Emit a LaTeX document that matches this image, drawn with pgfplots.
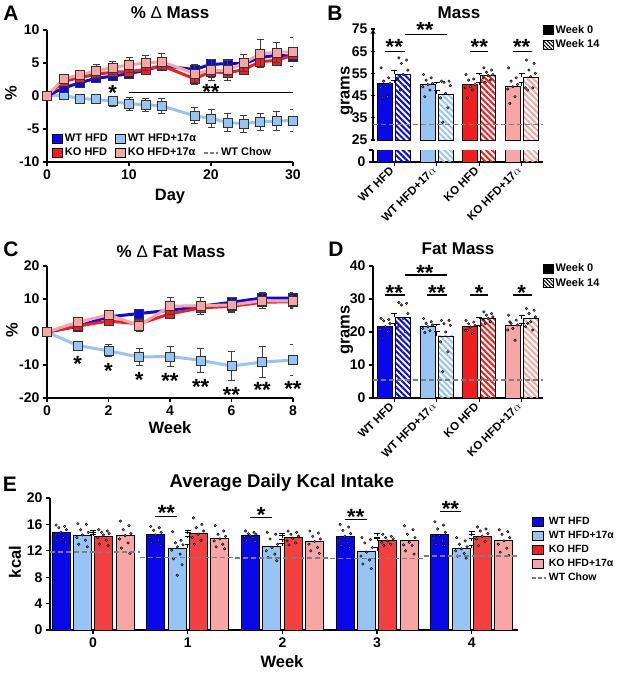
\documentclass[border=0pt]{standalone}
\usepackage{fontspec}
\setmainfont{Liberation Sans}
\usepackage{pgfplots}
\pgfplotsset{compat=1.18}
\usetikzlibrary{patterns.meta}

\definecolor{wtb}{RGB}{8,8,235}
\definecolor{lbl}{RGB}{150,196,245}
\definecolor{kor}{RGB}{240,30,30}
\definecolor{pnk}{RGB}{247,165,165}
\definecolor{dotg}{RGB}{120,120,120}
\definecolor{chow}{RGB}{125,125,125}

\newcommand{\fs}[1]{\fontsize{#1}{#1}\selectfont}

\tikzset{sig/.style={font=\bfseries\fs{22}, inner sep=0pt, anchor=base, yshift=-12.5pt}}

\pgfplotsset{
 prism/.style={scale only axis, axis lines=left, axis line style={-, line width=1.3pt, black},
   tick align=outside, major tick length=4pt, tick style={line width=1.3pt, black},
   tick label style={font=\bfseries\fs{14}}, /pgf/number format/assume math mode=true,
   clip mode=individual},
 serie/.style 2 args={color=#1, line width=3pt, mark=square*, mark size=4.5pt,
   mark options={fill=#2, draw=black!80, line width=0.7pt, solid},
   /pgfplots/error bars/y dir=both, /pgfplots/error bars/y explicit,
   /pgfplots/error bars/error bar style={line width=0.9pt, black!75},
   /pgfplots/error bars/error mark options={rotate=90, mark size=3.5pt, line width=0.9pt, black!75}},
 barst/.style={ybar, bar width=#1, draw=black, line width=0.9pt,
   /pgfplots/error bars/y dir=plus, /pgfplots/error bars/y explicit,
   /pgfplots/error bars/error bar style={line width=0.9pt, black},
   /pgfplots/error bars/error mark options={rotate=90, mark size=3pt, line width=0.9pt, black}},
 barsl/.style={ybar, bar width=#1, draw=black, line width=0.9pt},
 hatch/.style={pattern={Lines[angle=-45,distance=4.2pt,line width=2pt]}, pattern color=#1},
 dots/.style={only marks, mark=*, mark size=1.3pt, mark options={fill=dotg, draw=none}},
 sq/.style={legend image code/.code={\draw[fill=#1, draw=black, line width=0.6pt] (0pt,-4.5pt) rectangle (10.5pt,4.5pt);}},
 hsq/.style={legend image code/.code={\draw[pattern={Lines[angle=-45,distance=2.6pt,line width=1pt]}, pattern color=black, draw=black, line width=0.6pt] (0pt,-4.5pt) rectangle (10pt,4.5pt);}},
 chowleg/.style={legend image code/.code={\draw[chow, dash pattern=on 4pt off 2pt, line width=2pt] (0pt,0pt) -- (14pt,0pt);}},
 chowline/.style={chow, dash pattern=on 5pt off 3pt, line width=1.3pt}
}

\begin{document}
\begin{tikzpicture}
\path[use as bounding box] (0pt,0pt) rectangle (617pt,-674pt);

% ---------------- Panel A ----------------
\begin{axis}[prism, at={(47pt,-162pt)}, anchor=south west, width=246pt, height=132pt,
  xmin=0, xmax=30, ymin=-10, ymax=10, xtick={0,10,20,30}, ytick={-10,-5,0,5,10},
  legend style={at={(axis description cs:0.015,0.01)}, anchor=south west, draw=none, fill=none,
    font=\bfseries\fs{11}, inner sep=1pt, row sep=1pt, /tikz/every even column/.append style={column sep=5pt}},
  legend columns=3, legend cell align=left]
\addplot[forget plot, serie={lbl}{lbl}] table[x=x,y=y,y error=e] {
x y e
0 0 0
2 0.1 0.4
4 -0.4 0.5
6 -0.5 0.6
8 -0.8 0.8
10 -1.2 1.0
12 -1.3 1.0
14 -1.5 1.2
18 -3.0 1.2
20 -3.4 1.3
22 -4.0 1.3
24 -4.2 1.3
26 -3.9 1.3
28 -3.8 1.4
30 -3.7 1.6
};
\addplot[forget plot, serie={wtb}{wtb}] table[x=x,y=y,y error=e] {
x y e
0 0 0
2 1.2 0.5
4 2.0 0.6
6 2.7 0.6
8 3.0 0.6
10 3.4 0.6
12 3.9 0.6
14 4.6 0.5
18 4.0 0.7
20 4.8 0.6
22 4.9 0.5
24 4.9 0.6
26 5.8 0.7
28 6.2 0.7
30 6.0 0.8
};
\addplot[forget plot, serie={kor}{kor}] table[x=x,y=y,y error=e] {
x y e
0 0 0
2 2.2 0.5
4 2.8 0.6
6 3.3 0.6
8 3.6 0.7
10 3.7 0.7
12 4.0 0.7
14 4.6 0.6
18 2.6 0.9
20 3.7 0.9
22 3.5 0.7
24 4.0 0.6
26 5.2 0.8
28 5.4 0.8
30 6.2 0.9
};
\addplot[forget plot, serie={pnk}{pnk}] table[x=x,y=y,y error=e] {
x y e
0 0 0
2 2.6 0.7
4 3.2 0.7
6 3.8 1.0
8 4.3 1.0
10 4.7 1.2
12 5.0 1.2
14 5.2 1.2
18 3.4 1.4
20 3.9 1.6
22 3.9 1.5
24 5.0 1.3
26 6.4 2.1
28 6.6 1.5
30 6.7 2.2
};
\addlegendimage{sq=wtb}\addlegendentry{WT HFD}
\addlegendimage{sq=lbl}\addlegendentry{WT HFD+17α}
\addlegendimage{empty legend}\addlegendentry{}
\addlegendimage{sq=kor}\addlegendentry{KO HFD}
\addlegendimage{sq=pnk}\addlegendentry{KO HFD+17α}
\addlegendimage{chowleg}\addlegendentry{WT Chow}
\draw[line width=1.2pt] (axis cs:10,0.5) -- (axis cs:30,0.5);
\node[sig] at (axis cs:8,1.2) {*};
\node[sig] at (axis cs:20,1.3) {**};
\end{axis}

% ---------------- Panel B (upper) ----------------
\begin{axis}[prism, at={(373pt,-140pt)}, anchor=south west, width=170pt, height=111pt,
  xmin=0.5, xmax=4.5, ymin=25, ymax=75, axis x line=none, axis y line=left,
  ytick={25,35,45,55,65,75}, xtick=\empty,
  legend style={at={(axis description cs:0.99,1.06)}, anchor=north west, draw=none, fill=none,
    font=\bfseries\fs{11}, inner sep=1pt, row sep=1pt}, legend cell align=left]
\addplot[forget plot, barst=15pt, bar shift=-9pt, fill=wtb] coordinates {(1,50.5) +- (0,1.3)};
\addplot[forget plot, barst=15pt, bar shift=9pt, hatch=wtb] coordinates {(1,54.7) +- (0,1.8)};
\addplot[forget plot, barst=15pt, bar shift=-9pt, fill=lbl] coordinates {(2,50.0) +- (0,1.0)};
\addplot[forget plot, barst=15pt, bar shift=9pt, hatch=lbl] coordinates {(2,45.7) +- (0,1.8)};
\addplot[forget plot, barst=15pt, bar shift=-9pt, fill=kor] coordinates {(3,49.8) +- (0,1.2)};
\addplot[forget plot, barst=15pt, bar shift=9pt, hatch=kor] coordinates {(3,54.1) +- (0,0.9)};
\addplot[forget plot, barst=15pt, bar shift=-9pt, fill=pnk] coordinates {(4,49.3) +- (0,1.5)};
\addplot[forget plot, barst=15pt, bar shift=9pt, hatch=pnk] coordinates {(4,53.2) +- (0,2.0)};
\addplot[forget plot, dots] coordinates {
(0.69,57.5) (0.87,53) (0.75,51.5) (0.90,50.5) (0.79,49) (0.67,48.5) (0.84,44.5) (0.72,44)
(1.11,62) (1.29,61) (1.17,59.5) (1.32,56.5) (1.21,54.5) (1.09,53) (1.26,49) (1.14,47.5)
(1.69,54.5) (1.87,53) (1.75,52) (1.90,50.5) (1.79,50) (1.67,49) (1.84,47.5) (1.72,44.5)
(2.11,51.5) (2.29,51.5) (2.17,51) (2.32,49.5) (2.21,46) (2.09,44) (2.26,39.5) (2.14,33)
(2.69,54.5) (2.87,52.5) (2.75,52) (2.90,50) (2.79,49) (2.67,48.5) (2.84,47.5) (2.72,44)
(3.11,57.5) (3.29,56.5) (3.17,55.5) (3.32,54.5) (3.21,54) (3.09,53) (3.26,52) (3.14,51)
(3.69,57.5) (3.87,53) (3.75,51.5) (3.90,50) (3.79,49) (3.67,48) (3.84,44.5) (3.72,41.5)
(4.11,61) (4.29,59.5) (4.17,56.5) (4.32,55) (4.21,53.5) (4.09,48.5) (4.26,48.5) (4.14,47.5)
};
\addplot[forget plot, chowline] coordinates {(0.5,32) (4.5,32)};
\addlegendimage{sq=black}\addlegendentry{Week 0}
\addlegendimage{hsq}\addlegendentry{Week 14}
\draw[line width=1.2pt] (axis cs:0.78,65) -- (axis cs:1.25,65);
\node[sig] at (axis cs:1.0,69.3) {**};
\draw[line width=1.2pt] (axis cs:1.25,72.7) -- (axis cs:2.24,72.7);
\node[sig] at (axis cs:1.72,76.8) {**};
\draw[line width=1.2pt] (axis cs:2.78,65) -- (axis cs:3.21,65);
\node[sig] at (axis cs:3.0,69.3) {**};
\draw[line width=1.2pt] (axis cs:3.79,65) -- (axis cs:4.24,65);
\node[sig] at (axis cs:4.0,69.3) {**};
\end{axis}

% ---------------- Panel B (lower) ----------------
\begin{axis}[prism, at={(373pt,-162pt)}, anchor=south west, width=170pt, height=12pt,
  xmin=0.5, xmax=4.5, ymin=0, ymax=5, ytick={0,5}, yticklabels={0,{}},
  xtick={1,2,3,4}, xticklabels={WT HFD, WT HFD+17$\alpha$, KO HFD, KO HFD+17$\alpha$},
  xticklabel style={rotate=45, anchor=east, font=\bfseries\fs{11.5}}]
\addplot[forget plot, barsl=15pt, bar shift=-9pt, fill=wtb] coordinates {(1,50.5)};
\addplot[forget plot, barsl=15pt, bar shift=9pt, hatch=wtb] coordinates {(1,54.7)};
\addplot[forget plot, barsl=15pt, bar shift=-9pt, fill=lbl] coordinates {(2,50.0)};
\addplot[forget plot, barsl=15pt, bar shift=9pt, hatch=lbl] coordinates {(2,45.7)};
\addplot[forget plot, barsl=15pt, bar shift=-9pt, fill=kor] coordinates {(3,49.8)};
\addplot[forget plot, barsl=15pt, bar shift=9pt, hatch=kor] coordinates {(3,54.1)};
\addplot[forget plot, barsl=15pt, bar shift=-9pt, fill=pnk] coordinates {(4,49.3)};
\addplot[forget plot, barsl=15pt, bar shift=9pt, hatch=pnk] coordinates {(4,53.2)};
\end{axis}

% ---------------- Panel C ----------------
\begin{axis}[prism, at={(47pt,-398pt)}, anchor=south west, width=246pt, height=132pt,
  xmin=0, xmax=8, ymin=-20, ymax=20, xtick={0,2,4,6,8}, ytick={-20,-10,0,10,20}]
\addplot[forget plot, serie={lbl}{lbl}] table[x=x,y=y,y error=e] {
x y e
0 0 0
1 -4.1 1.2
2 -5.7 1.8
3 -7.6 2.5
4 -7.4 3.1
5 -8.6 3.7
6 -10.3 4.3
7 -9.1 4.6
8 -8.5 4.6
};
\addplot[forget plot, serie={wtb}{wtb}] table[x=x,y=y,y error=e] {
x y e
0 0 0
1 1.7 0.8
2 4.6 0.9
3 5.6 0.9
4 6.6 1.0
5 7.8 1.2
6 9.0 1.6
7 10.3 1.8
8 10.3 1.8
};
\addplot[forget plot, serie={kor}{kor}] table[x=x,y=y,y error=e] {
x y e
0 0 0
1 1.8 0.9
2 3.3 1.0
3 2.5 1.2
4 5.5 1.0
5 7.3 1.4
6 7.8 1.6
7 9.0 1.8
8 9.2 1.9
};
\addplot[forget plot, serie={pnk}{pnk}] table[x=x,y=y,y error=e] {
x y e
0 0 0
1 3.0 0.9
2 5.2 1.2
3 2.0 1.8
4 7.8 2.6
5 8.0 2.6
6 8.2 2.2
7 9.5 2.5
8 9.4 2.2
};
\node[sig] at (axis cs:1,-8.1) {*};
\node[sig] at (axis cs:2,-10.2) {*};
\node[sig] at (axis cs:3,-12.9) {*};
\node[sig] at (axis cs:4,-13.4) {**};
\node[sig] at (axis cs:5,-15.2) {**};
\node[sig] at (axis cs:6,-17.5) {**};
\node[sig] at (axis cs:7,-16.2) {**};
\node[sig] at (axis cs:8,-15.7) {**};
\end{axis}

% ---------------- Panel D ----------------
\begin{axis}[prism, at={(373pt,-398pt)}, anchor=south west, width=170pt, height=132pt,
  xmin=0.5, xmax=4.5, ymin=0, ymax=40, ytick={0,10,20,30,40},
  xtick={1,2,3,4}, xticklabels={WT HFD, WT HFD+17$\alpha$, KO HFD, KO HFD+17$\alpha$},
  xticklabel style={rotate=45, anchor=east, font=\bfseries\fs{11.5}},
  legend style={at={(axis description cs:0.99,1.04)}, anchor=north west, draw=none, fill=none,
    font=\bfseries\fs{11}, inner sep=1pt, row sep=1pt}, legend cell align=left]
\addplot[forget plot, barst=15pt, bar shift=-9pt, fill=wtb] coordinates {(1,21.8) +- (0,0.7)};
\addplot[forget plot, barst=15pt, bar shift=9pt, hatch=wtb] coordinates {(1,24.5) +- (0,1.2)};
\addplot[forget plot, barst=15pt, bar shift=-9pt, fill=lbl] coordinates {(2,21.7) +- (0,0.6)};
\addplot[forget plot, barst=15pt, bar shift=9pt, hatch=lbl] coordinates {(2,18.8) +- (0,1.4)};
\addplot[forget plot, barst=15pt, bar shift=-9pt, fill=kor] coordinates {(3,21.6) +- (0,0.5)};
\addplot[forget plot, barst=15pt, bar shift=9pt, hatch=kor] coordinates {(3,24.0) +- (0,0.5)};
\addplot[forget plot, barst=15pt, bar shift=-9pt, fill=pnk] coordinates {(4,21.9) +- (0,0.7)};
\addplot[forget plot, barst=15pt, bar shift=9pt, hatch=pnk] coordinates {(4,24.0) +- (0,0.9)};
\addplot[forget plot, dots] coordinates {
(0.69,24.1) (0.87,23.8) (0.75,23.4) (0.90,22.6) (0.79,21.6) (0.67,20.8) (0.84,20.1) (0.72,18.1)
(1.11,28.9) (1.29,28.7) (1.17,28.2) (1.32,25.6) (1.21,24.1) (1.09,21.6) (1.26,20.1) (1.14,18.6)
(1.69,24.1) (1.87,23.1) (1.75,22.6) (1.90,22.1) (1.79,21.6) (1.67,21.1) (1.84,20.4) (1.72,19.8)
(2.11,23.5) (2.29,23.5) (2.17,22.5) (2.32,22.0) (2.21,20.0) (2.09,17.0) (2.26,14.0) (2.14,8.0)
(2.69,23.5) (2.87,23.0) (2.75,22.5) (2.90,22.0) (2.79,21.5) (2.67,20.5) (2.84,19.5) (2.72,20.5)
(3.11,26.1) (3.29,25.6) (3.17,25.1) (3.32,24.6) (3.21,24.1) (3.09,23.6) (3.26,23.1) (3.14,22.6)
(3.69,25.1) (3.87,23.6) (3.75,22.6) (3.90,22.1) (3.79,21.1) (3.67,20.6) (3.84,17.5) (3.72,23.1)
(4.11,27.1) (4.29,26.6) (4.17,25.6) (4.32,24.6) (4.21,23.1) (4.09,21.6) (4.26,20.6) (4.14,22.6)
};
\addplot[forget plot, chowline] coordinates {(0.5,5.5) (4.5,5.5)};
\addlegendimage{sq=black}\addlegendentry{Week 0}
\addlegendimage{hsq}\addlegendentry{Week 14}
\draw[line width=1.2pt] (axis cs:0.78,31.2) -- (axis cs:1.25,31.2);
\node[sig] at (axis cs:1.0,33.3) {**};
\draw[line width=1.2pt] (axis cs:1.25,37.3) -- (axis cs:2.24,37.3);
\node[sig] at (axis cs:1.72,39.4) {**};
\draw[line width=1.2pt] (axis cs:1.78,31.2) -- (axis cs:2.24,31.2);
\node[sig] at (axis cs:2.0,33.3) {**};
\draw[line width=1.2pt] (axis cs:2.78,31.2) -- (axis cs:3.21,31.2);
\node[sig] at (axis cs:3.0,33.3) {*};
\draw[line width=1.2pt] (axis cs:3.79,31.2) -- (axis cs:4.24,31.2);
\node[sig] at (axis cs:4.0,33.3) {*};
\end{axis}

% ---------------- Panel E ----------------
\begin{axis}[prism, at={(50pt,-630pt)}, anchor=south west, width=468pt, height=132pt,
  xmin=-0.454, xmax=4.488, ymin=0, ymax=20, ytick={0,4,8,12,16,20}, xtick={0,1,2,3,4},
  legend style={at={(axis description cs:1.027,0.875)}, anchor=north west, draw=none, fill=none,
    font=\bfseries\fs{10.5}, inner sep=0.5pt, row sep=1.2pt, nodes={inner xsep=1.5pt}}, legend cell align=left]
\addplot[forget plot, barst=18pt, bar shift=-32pt, fill=wtb] coordinates {
(0,14.8) +- (0,0.3) (1,14.5) +- (0,0.35) (2,14.3) +- (0,0.3) (3,14.2) +- (0,0.4) (4,14.5) +- (0,0.45)};
\addplot[forget plot, barst=18pt, bar shift=-10.6pt, fill=lbl] coordinates {
(0,14.4) +- (0,0.35) (1,12.4) +- (0,0.6) (2,12.7) +- (0,0.4) (3,11.9) +- (0,0.55) (4,12.4) +- (0,0.35)};
\addplot[forget plot, barst=18pt, bar shift=10.6pt, fill=kor!85!white] coordinates {
(0,14.2) +- (0,0.35) (1,14.7) +- (0,0.45) (2,14.0) +- (0,0.3) (3,13.6) +- (0,0.25) (4,14.2) +- (0,0.35)};
\addplot[forget plot, barst=18pt, bar shift=32pt, fill=pnk] coordinates {
(0,14.3) +- (0,0.45) (1,13.9) +- (0,0.3) (2,13.4) +- (0,0.35) (3,13.5) +- (0,0.45) (4,13.5) +- (0,0.4)};
\addplot[forget plot, dots] table {
x y
-0.39 15.9
-0.30 15.7
-0.36 15.5
-0.28 15.2
-0.34 14.8
-0.40 14.4
-0.31 14.0
-0.38 13.5
-0.29 13.3
-0.16 16.1
-0.07 16.0
-0.13 15.2
-0.05 14.8
-0.11 14.4
-0.17 14.0
-0.08 13.6
-0.15 13.0
-0.06 12.6
0.06 15.2
0.15 15.0
0.09 14.8
0.17 14.6
0.11 14.4
0.05 14.0
0.14 13.6
0.07 13.0
0.16 12.8
0.29 16.5
0.38 15.8
0.32 15.2
0.40 14.6
0.34 14.3
0.28 13.8
0.37 13.2
0.30 12.4
0.39 11.6
0.61 15.7
0.70 15.5
0.64 15.1
0.72 14.8
0.66 14.4
0.60 14.0
0.69 13.6
0.62 13.2
0.71 12.8
0.84 14.9
0.93 13.6
0.87 13.2
0.95 12.9
0.89 12.6
0.83 12.1
0.92 11.5
0.85 10.8
0.94 9.9
0.89 8.3
1.06 17.0
1.15 16.0
1.09 15.5
1.17 15.0
1.11 14.5
1.05 14.0
1.14 13.6
1.07 13.0
1.29 15.8
1.38 15.0
1.32 14.5
1.40 14.2
1.34 13.8
1.28 13.5
1.37 13.0
1.30 12.6
1.39 12.3
1.61 15.0
1.70 14.8
1.64 14.6
1.72 14.5
1.66 14.3
1.60 14.2
1.69 14.0
1.62 13.6
1.71 13.4
1.84 14.8
1.93 14.5
1.87 13.8
1.95 13.0
1.89 12.5
1.83 12.0
1.92 11.5
1.85 11.0
1.94 10.5
2.06 15.0
2.15 14.8
2.09 14.5
2.17 14.2
2.11 13.9
2.05 13.5
2.14 13.2
2.07 12.9
2.29 15.0
2.38 14.7
2.32 14.2
2.40 13.8
2.34 13.4
2.28 13.0
2.37 12.5
2.30 12.0
2.39 11.6
2.61 16.0
2.70 15.6
2.64 15.1
2.72 14.6
2.66 14.2
2.60 13.6
2.69 13.2
2.62 12.8
2.71 12.5
2.84 14.0
2.93 13.7
2.87 13.2
2.95 12.5
2.89 11.8
2.83 11.2
2.92 10.6
2.85 10.0
2.94 9.3
3.06 14.5
3.15 14.2
3.09 14.0
3.17 13.8
3.11 13.5
3.05 13.3
3.14 13.0
3.07 12.8
3.29 15.8
3.38 15.2
3.32 14.5
3.40 14.0
3.34 13.3
3.28 12.9
3.37 12.8
3.30 12.0
3.39 11.5
3.61 16.4
3.70 15.9
3.64 15.3
3.72 14.8
3.66 14.3
3.60 13.9
3.69 13.5
3.62 13.0
3.71 12.8
3.84 14.0
3.93 13.5
3.87 13.0
3.95 12.6
3.89 12.3
3.83 12.0
3.92 11.6
3.85 11.2
3.94 10.9
4.06 15.6
4.15 15.3
4.09 15.0
4.17 14.6
4.11 14.2
4.05 13.8
4.14 13.4
4.07 12.8
4.29 15.2
4.38 14.9
4.32 14.5
4.40 14.0
4.34 13.5
4.28 13.0
4.37 12.4
4.30 11.8
4.39 11.3
};
\addplot[forget plot, chowline] coordinates {(-0.454,11.8) (0.5,11.8)};
\addplot[forget plot, chowline] coordinates {(0.5,11.0) (1.5,11.0)};
\addplot[forget plot, chowline] coordinates {(1.5,10.9) (2.5,10.9)};
\addplot[forget plot, chowline] coordinates {(2.5,10.8) (3.5,10.8)};
\addplot[forget plot, chowline] coordinates {(3.5,11.2) (4.5,11.2)};
\addlegendimage{sq=wtb}\addlegendentry{WT HFD}
\addlegendimage{sq=lbl}\addlegendentry{WT HFD+17α}
\addlegendimage{sq=kor}\addlegendentry{KO HFD}
\addlegendimage{sq=pnk}\addlegendentry{KO HFD+17α}
\addlegendimage{chowleg}\addlegendentry{WT Chow}
\draw[line width=1.2pt] (axis cs:0.66,17.2) -- (axis cs:0.89,17.2);
\node[sig] at (axis cs:0.775,18.5) {**};
\draw[line width=1.2pt] (axis cs:1.66,17.1) -- (axis cs:1.89,17.1);
\node[sig] at (axis cs:1.775,18.2) {*};
\draw[line width=1.2pt] (axis cs:2.66,16.8) -- (axis cs:2.89,16.8);
\node[sig] at (axis cs:2.775,17.9) {**};
\draw[line width=1.2pt] (axis cs:3.66,18.0) -- (axis cs:3.89,18.0);
\node[sig] at (axis cs:3.775,19.1) {**};
\end{axis}

% ---------------- Text ----------------
\node[font=\bfseries\fs{21}] at (11pt,-13pt) {A};
\node[font=\bfseries\fs{17}] at (170pt,-13pt) {\% {\mdseries Δ} Mass};
\node[font=\bfseries\fs{16.5}] at (170pt,-197pt) {Day};
\node[font=\bfseries\fs{16.5}, rotate=90] at (11pt,-93pt) {\%};

\node[font=\bfseries\fs{21}] at (335pt,-13pt) {B};
\node[font=\bfseries\fs{17}] at (459pt,-13pt) {Mass};
\node[font=\bfseries\fs{16.5}, rotate=90] at (347pt,-91pt) {grams};

\node[font=\bfseries\fs{21}] at (11pt,-249pt) {C};
\node[font=\bfseries\fs{17}] at (171pt,-252pt) {\% {\mdseries Δ} Fat Mass};
\node[font=\bfseries\fs{16.5}] at (170pt,-428pt) {Week};
\node[font=\bfseries\fs{16.5}, rotate=90] at (12pt,-330pt) {\%};

\node[font=\bfseries\fs{21}] at (336pt,-249pt) {D};
\node[font=\bfseries\fs{17}] at (458pt,-249pt) {Fat Mass};
\node[font=\bfseries\fs{16.5}, rotate=90] at (347pt,-330pt) {grams};

\node[font=\bfseries\fs{21}] at (10pt,-484pt) {E};
\node[font=\bfseries\fs{18.5}] at (282pt,-483pt) {Average Daily Kcal Intake};
\node[font=\bfseries\fs{16.5}, rotate=90] at (15pt,-562pt) {kcal};
\node[font=\bfseries\fs{16.5}] at (282pt,-662pt) {Week};
\end{tikzpicture}
\end{document}
